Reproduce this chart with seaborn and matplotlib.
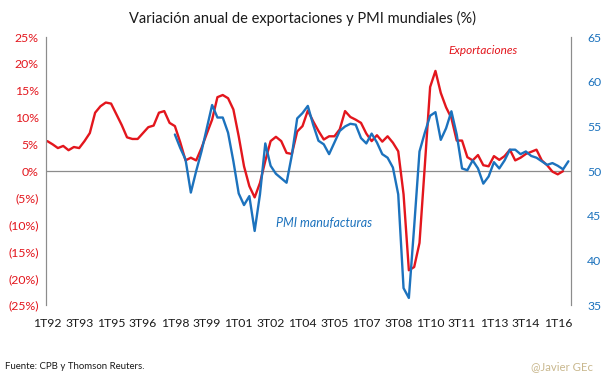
import numpy as np
import pandas as pd
import matplotlib
matplotlib.use("Agg")
import matplotlib.pyplot as plt
import seaborn as sns

# datos trimestrales desde 1T92
exportaciones = [5.6, 5.0, 4.3, 4.7, 3.9, 4.5, 4.3, 5.6, 7.1, 10.9, 12.1, 12.8, 12.6, 10.6, 8.6, 6.3,
                 6.0, 6.0, 7.1, 8.2, 8.5, 10.9, 11.2, 9.0, 8.4, 5.4, 2.0, 2.5, 2.0, 4.3, 7.0, 9.6,
                 13.8, 14.2, 13.6, 11.5, 6.5, 0.9, -2.8, -4.9, -2.2, 1.9, 5.6, 6.4, 5.6, 3.4, 3.2, 7.4,
                 8.4, 11.3, 9.3, 7.5, 5.9, 6.5, 6.5, 7.8, 11.2, 10.1, 9.6, 9.0, 7.0, 5.6, 6.7, 5.5,
                 6.5, 5.3, 3.7, -4.3, -18.5, -17.9, -13.4, 1.0, 15.7, 18.7, 14.6, 11.9, 9.9, 5.7, 5.7, 2.6,
                 2.0, 3.0, 1.1, 0.9, 2.8, 2.1, 2.8, 4.0, 2.0, 2.5, 3.2, 3.6, 4.0, 2.0, 1.1, -0.1,
                 -0.6, 0.0]

# PMI manufacturas desde 1T98
pmi_inicio = 24
pmi = [54.1, 52.6, 51.3, 47.6, 50.0, 52.2, 54.8, 57.4, 56.0, 56.0, 54.3, 51.1, 47.5, 46.2, 47.2, 43.3,
       47.4, 53.1, 50.6, 49.7, 49.2, 48.7, 51.8, 55.9, 56.5, 57.3, 55.2, 53.4, 53.0, 51.9, 53.2, 54.5,
       55.0, 55.3, 55.2, 53.7, 53.1, 54.2, 53.2, 51.9, 51.5, 50.4, 47.4, 36.9, 35.8, 43.8, 52.2, 54.3,
       56.2, 56.6, 53.5, 54.8, 56.7, 54.1, 50.3, 50.1, 51.2, 50.3, 48.6, 49.4, 51.0, 50.3, 51.2, 52.4,
       52.4, 51.9, 52.2, 51.7, 51.5, 51.1, 50.7, 50.9, 50.6, 50.2, 51.1]

n_trim = pmi_inicio + len(pmi)
etiquetas = ["%dT%02d" % (i % 4 + 1, (1992 + i // 4) % 100) for i in range(n_trim)]

df_exp = pd.DataFrame({"t": np.arange(len(exportaciones)), "valor": exportaciones})
df_pmi = pd.DataFrame({"t": np.arange(pmi_inicio, n_trim), "valor": pmi})

rojo = "#E3161D"
azul = "#1C72BD"

sns.set_style("white")
plt.rcParams["font.family"] = ["Lato", "DejaVu Sans"]

fig = plt.figure(figsize=(6.05, 3.79), dpi=100)
ax = fig.add_axes([0.0755, 0.195, 0.8675, 0.707])
ax2 = ax.twinx()

sns.lineplot(data=df_exp, x="t", y="valor", ax=ax, color=rojo, lw=1.7)
sns.lineplot(data=df_pmi, x="t", y="valor", ax=ax2, color=azul, lw=1.7)

ax.axhline(0, color="#8c8c8c", lw=0.9, zorder=0)

ax.set_xlim(-0.3, 98.4)
ax.set_ylim(-25, 25)
ax2.set_ylim(35, 65)

ax.set_yticks(range(-25, 26, 5))
ax.set_yticklabels([("(%d%%)" % -v) if v < 0 else ("%d%%" % v) for v in range(-25, 26, 5)],
                   color=rojo, fontsize=8.8)
ax2.set_yticks(range(35, 66, 5))
ax2.set_yticklabels([str(v) for v in range(35, 66, 5)], color=azul, fontsize=8.8)

pos = list(range(0, n_trim, 6))
ax.set_xticks(pos)
ax.set_xticklabels([etiquetas[p] for p in pos], fontsize=8.8, color="#1a1a1a")

ax.tick_params(axis="x", length=0, pad=9)
ax.tick_params(axis="y", length=0, pad=5)
ax2.tick_params(axis="y", length=0, pad=12)

for a in (ax, ax2):
    a.set_xlabel("")
    a.set_ylabel("")
    a.spines["top"].set_visible(False)
    a.spines["bottom"].set_visible(False)
    a.spines["left"].set_color("#8c8c8c")
    a.spines["right"].set_color("#8c8c8c")
    a.grid(False)

ax.text(82, 22.5, "Exportaciones", color=rojo, style="italic", fontsize=8.5, ha="center", va="center")
ax.text(43, -9.7, "PMI manufacturas", color=azul, style="italic", fontsize=9, ha="left", va="center")

fig.text(0.5, 0.952, "Variación anual de exportaciones y PMI mundiales (%)", ha="center", va="center",
         fontsize=10.5, color="#1a1a1a")
fig.text(0.008, 0.032, "Fuente: CPB y Thomson Reuters.", fontsize=6.9, color="#1a1a1a", va="center")
fig.text(0.98, 0.032, "@Javier GEc", fontsize=8.2, color="#C9B88E", ha="right", va="center")

fig.savefig("out.png", dpi=100)
